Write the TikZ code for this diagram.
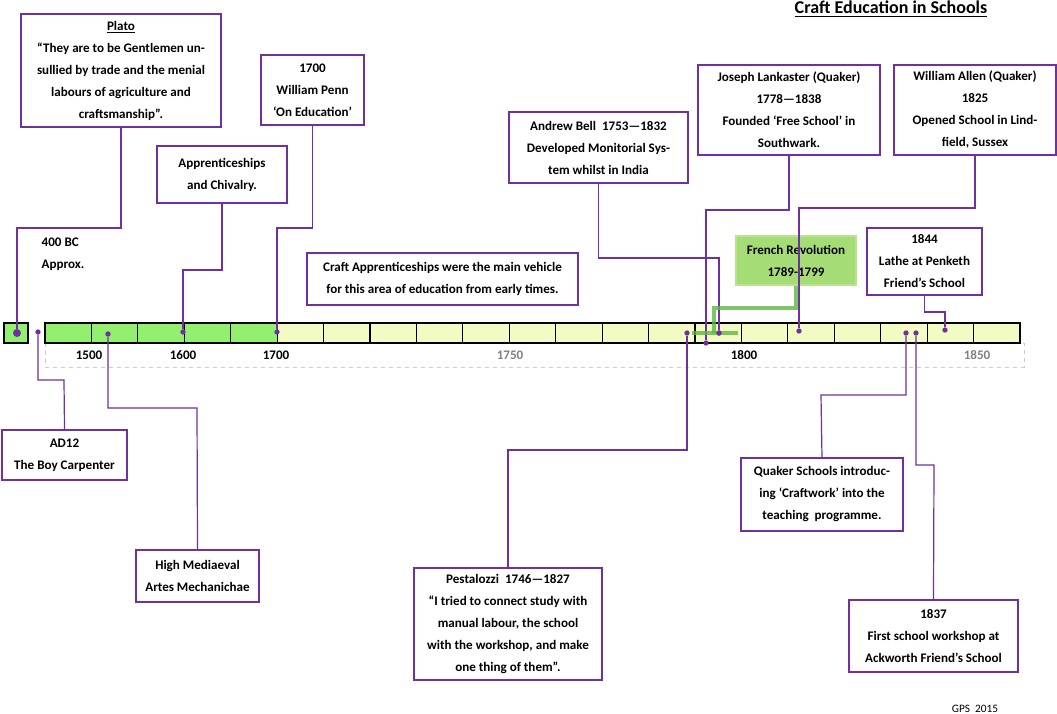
\documentclass[tikz,border=0pt]{standalone}
\usepackage{fontspec}
\setmainfont{Carlito}
\begin{document}
\begin{tikzpicture}[x=0.75pt,y=-0.75pt,
  box/.style={draw=pur,line width=0.9pt,fill=white,inner sep=0pt,align=center,font=\bfseries\fontsize{9.8}{16.5}\selectfont},
  con/.style={draw=pur,line width=0.9pt},
  dot/.style={circle,fill=pur,inner sep=0pt,minimum size=4pt},
  lab/.style={font=\bfseries\fontsize{9.8}{12}\selectfont}]
\definecolor{pur}{HTML}{7030A0}
\definecolor{gr}{HTML}{92F06E}
\definecolor{ly}{HTML}{F2FBC4}
\definecolor{fr}{HTML}{A6DC76}
\useasboundingbox (0,0) rectangle (1057,714);
% timeline
\draw[gray!40,dashed] (45,343) rectangle (1024,367);
\fill[gr] (45,323) rectangle (277,343);
\fill[ly] (277,323) rectangle (1020,343);
\foreach \i in {1,...,20}{
  \pgfmathsetmacro{\xa}{45+\i*46.43}
  \draw[line width=0.8pt] (\xa,323) -- (\xa,343);}
\draw[line width=0.8pt] (45,323) rectangle (1020,343);
\draw[fill=gr,line width=0.8pt] (4,323) rectangle (28,343);
\node[lab] (l1500) at (89,355) {1500};
\node[lab] (l1600) at (183,355) {1600};
\node[lab] (l1700) at (276,355) {1700};
\node[lab,text=gray] (l1750) at (510,355) {1750};
\node[lab] (l1800) at (744,355) {1800};
\node[lab,text=gray] (l1850) at (977,355) {1850};
% title
\node[font=\bfseries\fontsize{13.5}{14}\selectfont] (title) at (891,9) {\underline{Craft Education in Schools}};
\node[font=\fontsize{8.5}{10}\selectfont] (gps) at (975,709) {GPS\ \ 2015};
% boxes
\node[box,minimum width=200*0.75pt,minimum height=113*0.75pt] (plato) at (121,70.5) {\underline{Plato}\\“They are to be Gentlemen un-\\sullied by trade and the menial\\labours of agriculture and\\craftsmanship”.};
\node[box,minimum width=103*0.75pt,minimum height=70*0.75pt] (penn) at (312.5,90) {1700\\William Penn\\‘On Education’};
\node[box,minimum width=130*0.75pt,minimum height=57*0.75pt] (appr) at (222,174.5) {Apprenticeships\\and Chivalry.};
\node[lab,align=left,anchor=west,font=\bfseries\fontsize{9.8}{16.5}\selectfont] (bc) at (37,254) {400 BC\\Approx.};
\node[box,minimum width=271*0.75pt,minimum height=52*0.75pt] (craft) at (442.5,279) {Craft Apprenticeships were the main vehicle\\for this area of education from early times.};
\node[box,minimum width=179*0.75pt,minimum height=71*0.75pt] (bell) at (598.5,147.5) {Andrew Bell\ \ 1753—1832\\Developed Monitorial Sys-\\tem whilst in India};
\node[box,minimum width=182*0.75pt,minimum height=90*0.75pt] (lank) at (789,110) {Joseph Lankaster (Quaker)\\1778—1838\\Founded ‘Free School’ in\\Southwark.};
\node[box,minimum width=162*0.75pt,minimum height=90*0.75pt] (allen) at (975,110) {William Allen (Quaker)\\1825\\Opened School in Lind-\\field, Sussex};
\node[box,draw=fr!80!white,fill=fr,minimum width=120*0.75pt,minimum height=49*0.75pt] (fr) at (796,260.5) {French Revolution\\1789-1799};
\node[box,minimum width=115*0.75pt,minimum height=67*0.75pt] (lathe) at (924.5,261.5) {1844\\Lathe at Penketh\\Friend’s School};
\node[box,minimum width=125*0.75pt,minimum height=50*0.75pt] (ad12) at (64.5,455) {AD12\\The Boy Carpenter};
\node[box,minimum width=123*0.75pt,minimum height=52*0.75pt] (med) at (197.5,576) {High Mediaeval\\Artes Mechanichae};
\node[box,minimum width=188*0.75pt,minimum height=112*0.75pt] (pest) at (508,624) {Pestalozzi\ \ 1746—1827\\“I tried to connect study with\\manual labour, the school\\with the workshop, and make\\one thing of them”.};
\node[box,minimum width=162*0.75pt,minimum height=73*0.75pt] (quak) at (822,494.5) {Quaker Schools introduc-\\ing ‘Craftwork’ into the\\teaching\ \ programme.};
\node[box,minimum width=169*0.75pt,minimum height=72*0.75pt] (w1837) at (933.5,636) {1837\\First school workshop at\\Ackworth Friend’s School};
% dots
\node[dot,minimum size=6pt] (d0) at (17,333) {};
\node[dot] (dad) at (38,332) {};
\node[dot] (dmed) at (108,334) {};
\node[dot] (d1600) at (183,332) {};
\node[dot] (d1700) at (277,332) {};
\node[dot] (dpest) at (687,333) {};
\node[dot] (dlank) at (706,343) {};
\node[dot] (dbell) at (719,333) {};
\node[dot] (dallen) at (799,331) {};
\node[dot] (dquak) at (906,333) {};
\node[dot] (d1837) at (916,333) {};
\node[dot] (dlathe) at (945,330) {};
\coordinate (frend) at (714,333);
% connectors
\draw[con] (plato.south) |- (17,228) -- (d0);
\draw[con] (appr.south) |- (183,270) -- (d1600);
\draw[con] (penn.south) |- (277,228) -- (d1700);
\draw[con] (dad) |- (64,380) -- (ad12.north);
\draw[con] (dmed) |- (197,408) -- (med.north);
\draw[con] (bell.south) |- (719,258) -- (dbell);
\draw[con] (lank.south) |- (706,210) -- (dlank);
\draw[con] (allen.south) |- (799,208) -- (dallen);
\draw[con] (lathe.south) |- (945,312) -- (dlathe);
\draw[con] (dpest) |- (508,450) -- (pest.north);
\draw[con] (dquak) |- (821,395) -- (quak.north);
\draw[con] (d1837) |- (934,465) -- (w1837.north);
\draw[draw=fr!70!green!80!black,opacity=0.8,line width=2.5pt] (fr.south) |- (714,308) -- (frend);
\draw[draw=fr!70!green!80!black,opacity=0.8,line width=3.5pt] (692,333) -- (738,333);
\node[dot] at (719,333) {};
\end{tikzpicture}
\end{document}
